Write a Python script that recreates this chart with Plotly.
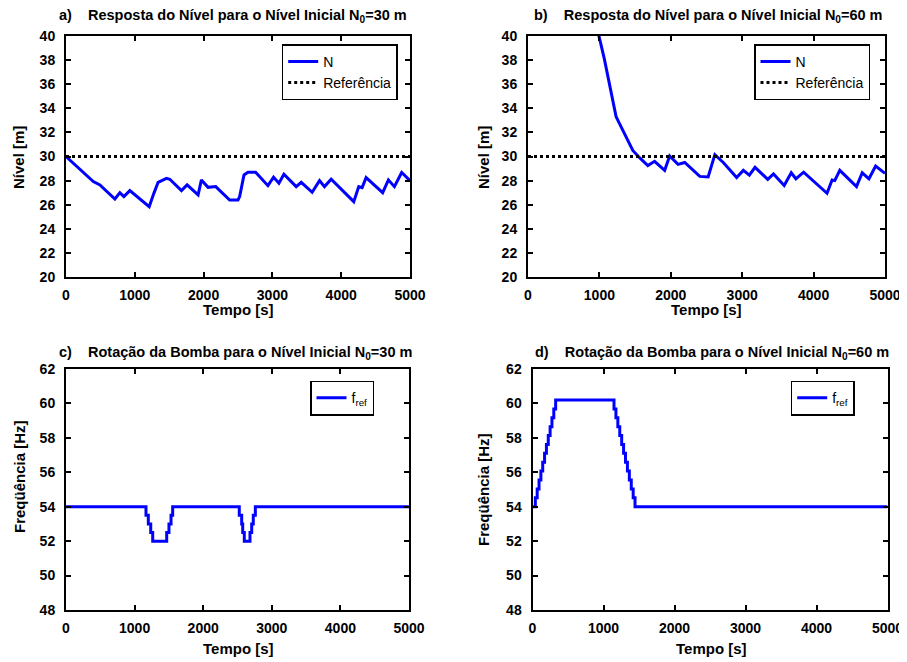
import plotly.graph_objects as go

# ---------------- data ----------------
x_ticks = [0, 1000, 2000, 3000, 4000, 5000]
y_ticks_level = [20, 22, 24, 26, 28, 30, 32, 34, 36, 38, 40]
y_ticks_freq = [48, 50, 52, 54, 56, 58, 60, 62]

# a) level, N0 = 30 m
t_a = [0, 397, 493, 711, 783, 841, 928, 1170, 1209, 1277, 1339, 1460, 1509, 1678,
       1760, 1920, 1968, 2065, 2176, 2379, 2500, 2524, 2587, 2645, 2756, 2935, 3017,
       3095, 3167, 3346, 3419, 3578, 3685, 3757, 3854, 4183, 4255, 4304, 4362, 4603,
       4686, 4773, 4879, 5000]
n_a = [30.0, 27.92, 27.64, 26.47, 27.0, 26.67, 27.17, 25.97, 25.83, 26.94, 27.86, 28.19,
       28.11, 27.17, 27.64, 26.81, 28.06, 27.44, 27.5, 26.39, 26.39, 26.67, 28.47, 28.69,
       28.69, 27.58, 28.28, 27.78, 28.53, 27.5, 27.86, 27.03, 28.0, 27.5, 28.11, 26.25,
       27.5, 27.42, 28.25, 27.0, 28.06, 27.5, 28.67, 28.0]

# b) level, N0 = 60 m
t_b = [0, 976, 1069, 1140, 1234, 1280, 1351, 1468, 1562, 1679, 1773, 1914, 1984, 2101,
       2195, 2406, 2523, 2617, 2735, 2922, 3016, 3100, 3180, 3358, 3438, 3588, 3687,
       3752, 3860, 4188, 4259, 4296, 4367, 4601, 4681, 4775, 4869, 5000]
n_b = [60.0, 40.45, 38.1, 36.1, 33.3, 32.75, 31.9, 30.5, 29.9, 29.25, 29.6, 28.85, 30.05,
       29.35, 29.5, 28.35, 28.3, 30.15, 29.5, 28.25, 28.85, 28.45, 29.1, 28.1, 28.55,
       27.6, 28.65, 28.15, 28.7, 26.95, 28.05, 28.0, 28.85, 27.5, 28.65, 28.15, 29.2, 28.6]

ref_t = [0, 5000]
ref_level = [30, 30]

# c) pump frequency, N0 = 30 m
t_c = [0, 1166, 1200, 1235, 1264, 1468, 1501, 1531, 1555, 2526, 2561, 2576, 2599,
       2682, 2707, 2730, 2760, 5000]
f_c = [54.0, 53.5, 53.0, 52.5, 52.0, 52.5, 53.0, 53.5, 54.0, 53.5, 53.0, 52.5, 52.0,
       52.5, 53.0, 53.5, 54.0, 54.0]

# d) pump frequency, N0 = 60 m
t_d = [0, 40, 66, 92, 118, 144, 170, 196, 222, 248, 274, 300, 326,
       1148, 1175, 1202, 1229, 1256, 1283, 1310, 1337, 1364, 1391, 1418, 1444, 5000]
f_d = [54.0, 54.52, 55.03, 55.55, 56.07, 56.58, 57.1, 57.62, 58.13, 58.65, 59.17, 59.68, 60.2,
       59.68, 59.17, 58.65, 58.13, 57.62, 57.1, 56.58, 56.07, 55.55, 55.03, 54.52, 54.0, 54.0]

# ---------------- layout helpers ----------------
# The page body has an 8px default margin, so the figure is made 8px smaller
# and all page-pixel positions are converted to figure coordinates.
OFF = 8
W, H = 907 - OFF, 662 - OFF
FONT = "Liberation Sans, Arial, Helvetica, sans-serif"
BLUE = "#0000FF"


def fx(p):
    return (p - OFF) / W


def fy(p):
    return 1 - (p - OFF) / H


fig = go.Figure()

fig.add_trace(go.Scatter(x=t_a, y=n_a, mode="lines", name="N",
                         line=dict(color=BLUE, width=3), xaxis="x", yaxis="y", legend="legend"))
fig.add_trace(go.Scatter(x=ref_t, y=ref_level, mode="lines", name="Referência",
                         line=dict(color="black", width=3, dash="dot"), xaxis="x", yaxis="y",
                         legend="legend"))
fig.add_trace(go.Scatter(x=t_b, y=n_b, mode="lines", name="N",
                         line=dict(color=BLUE, width=3), xaxis="x2", yaxis="y2", legend="legend2"))
fig.add_trace(go.Scatter(x=ref_t, y=ref_level, mode="lines", name="Referência",
                         line=dict(color="black", width=3, dash="dot"), xaxis="x2", yaxis="y2",
                         legend="legend2"))
fig.add_trace(go.Scatter(x=t_c, y=f_c, mode="lines", name="f<sub>ref</sub>", line_shape="hv",
                         line=dict(color=BLUE, width=3), xaxis="x3", yaxis="y3", legend="legend3"))
fig.add_trace(go.Scatter(x=t_d, y=f_d, mode="lines", name="f<sub>ref</sub>", line_shape="hv",
                         line=dict(color=BLUE, width=3), xaxis="x4", yaxis="y4", legend="legend4"))

tickfont = dict(family=FONT, size=14, color="black", weight="bold")
common = dict(showline=True, linewidth=2, linecolor="black", mirror="ticks",
              ticks="inside", ticklen=5, tickwidth=2, tickcolor="black",
              showgrid=False, zeroline=False, tickfont=tickfont, automargin=False)

domains = {
    "a": ([66, 410], [36, 277]),
    "b": ([528, 885], [36, 277]),
    "c": ([66, 409], [369, 610]),
    "d": ([532.5, 887.5], [369, 610]),
}


def xdom(k):
    return [fx(domains[k][0][0]), fx(domains[k][0][1])]


def ydom(k):
    return [fy(domains[k][1][1]), fy(domains[k][1][0])]


layout = dict(
    width=W, height=H,
    margin=dict(l=0, r=0, t=0, b=0, autoexpand=False),
    paper_bgcolor="white", plot_bgcolor="white",
    font=dict(family=FONT, color="black"),
)
for i, k, yr, yt in [(1, "a", [20, 40], y_ticks_level), (2, "b", [20, 40], y_ticks_level),
                     (3, "c", [48, 62], y_ticks_freq), (4, "d", [48, 62], y_ticks_freq)]:
    sx = "" if i == 1 else str(i)
    layout["xaxis" + sx] = dict(common, domain=xdom(k), range=[0, 5000], tickvals=x_ticks,
                                anchor="y" + sx, ticklabelstandoff=4)
    layout["yaxis" + sx] = dict(common, domain=ydom(k), range=yr, tickvals=yt,
                                anchor="x" + sx, ticklabelstandoff=6)

legfont = dict(family=FONT, size=14, color="black")
legcommon = dict(bordercolor="black", borderwidth=1.5, bgcolor="white", font=legfont,
                 xanchor="left", yanchor="top", tracegroupgap=0, itemwidth=30)
layout["legend"] = dict(legcommon, x=fx(281.7), y=fy(44.3))
layout["legend2"] = dict(legcommon, x=fx(754), y=fy(44.3))
layout["legend3"] = dict(legcommon, x=fx(310), y=fy(380.7))
layout["legend4"] = dict(legcommon, x=fx(790.7), y=fy(380.7))

NB = "\u00a0"
titles = [
    ("a)" + NB * 4 + "Resposta do Nível para o Nível Inicial N<sub>0</sub>=30 m", 232.5, 16),
    ("b)" + NB * 4 + "Resposta do Nível para o Nível Inicial N<sub>0</sub>=60 m", 708.5, 16),
    ("c)" + NB * 4 + "Rotação da Bomba para o Nível Inicial N<sub>0</sub>=30 m", 235.8, 353),
    ("d)" + NB * 4 + "Rotação da Bomba para o Nível Inicial N<sub>0</sub>=60 m", 712, 353),
]
ann = []
for txt, cx, cy in titles:
    ann.append(dict(text=txt, x=fx(cx), y=fy(cy), xref="paper", yref="paper",
                    xanchor="center", yanchor="middle", showarrow=False,
                    font=dict(family=FONT, size=14.5, color="black", weight="bold")))

axis_titles = [
    ("Tempo [s]", 238, 309, 0), ("Tempo [s]", 706, 309, 0),
    ("Tempo [s]", 238, 648, 0), ("Tempo [s]", 711, 648, 0),
    ("Nível [m]", 19, 158, -90), ("Nível [m]", 484, 158, -90),
    ("Freqüência [Hz]", 19, 477, -90), ("Freqüência [Hz]", 484, 490, -90),
]
for txt, cx, cy, rot in axis_titles:
    ann.append(dict(text=txt, x=fx(cx), y=fy(cy), xref="paper", yref="paper",
                    xanchor="center", yanchor="middle", showarrow=False, textangle=rot,
                    font=dict(family=FONT, size=15, color="black", weight="bold")))
layout["annotations"] = ann

fig.update_layout(**layout)
fig.write_html("out.html")
